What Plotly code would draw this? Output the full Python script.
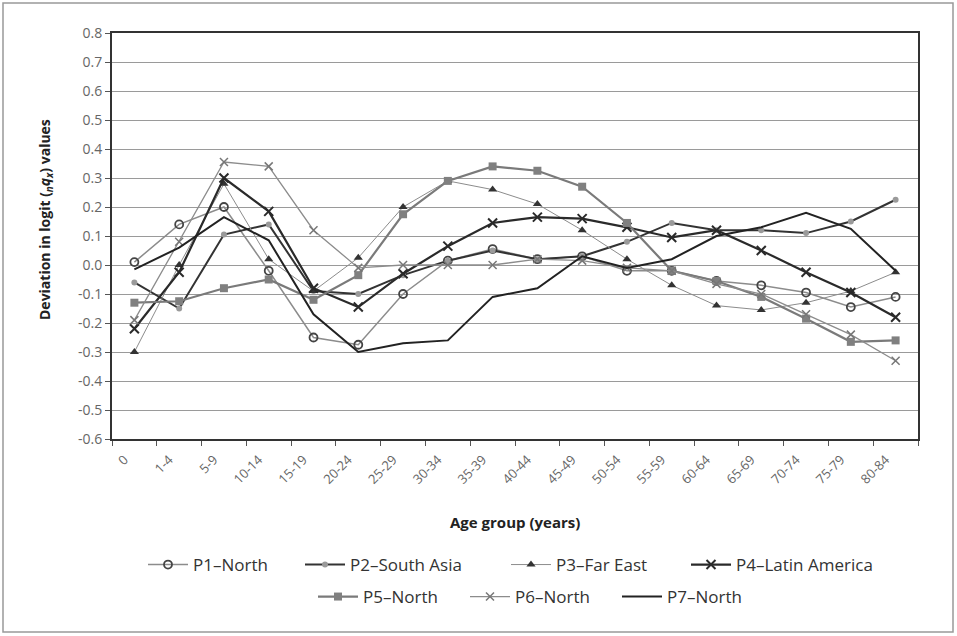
import plotly.graph_objects as go

age_groups = ["0", "1-4", "5-9", "10-14", "15-19", "20-24", "25-29", "30-34", "35-39",
              "40-44", "45-49", "50-54", "55-59", "60-64", "65-69", "70-74", "75-79", "80-84"]

p1_north = [0.01, 0.14, 0.20, -0.02, -0.25, -0.275, -0.10, 0.015, 0.055, 0.02, 0.03,
            -0.02, -0.02, -0.055, -0.07, -0.095, -0.145, -0.11]
p2_south_asia = [-0.06, -0.15, 0.105, 0.14, -0.09, -0.10, -0.035, 0.015, 0.05, 0.02, 0.03,
                 0.08, 0.145, 0.12, 0.12, 0.11, 0.15, 0.225]
p3_far_east = [-0.30, 0.0, 0.28, 0.02, -0.09, 0.025, 0.20, 0.29, 0.26, 0.21, 0.12,
               0.02, -0.07, -0.14, -0.155, -0.13, -0.09, -0.025]
p4_latin_america = [-0.22, -0.025, 0.30, 0.185, -0.08, -0.145, -0.03, 0.065, 0.145, 0.165, 0.16,
                    0.13, 0.095, 0.12, 0.05, -0.025, -0.095, -0.18]
p5_north = [-0.13, -0.125, -0.08, -0.05, -0.12, -0.035, 0.175, 0.29, 0.34, 0.325, 0.27,
            0.145, -0.02, -0.055, -0.11, -0.185, -0.265, -0.26]
p6_north = [-0.19, 0.08, 0.355, 0.34, 0.12, -0.01, 0.0, 0.0, 0.0, 0.02, 0.015,
            -0.01, -0.02, -0.065, -0.10, -0.17, -0.24, -0.33]
p7_north = [-0.015, 0.06, 0.165, 0.085, -0.17, -0.30, -0.27, -0.26, -0.11, -0.08, 0.03,
            -0.01, 0.02, 0.10, 0.13, 0.18, 0.125, -0.02]

y_tick_values = [0.8, 0.7, 0.6, 0.5, 0.4, 0.3, 0.2, 0.1, 0.0, -0.1, -0.2, -0.3, -0.4, -0.5, -0.6]
y_tick_labels = ["0.8", "0.7", "0.6", "0.5", "0.4", "0.3", "0.2", "0.1", "0.0",
                 "-0.1", "-0.2", "-0.3", "-0.4", "-0.5", "-0.6"]

FONT = "Open Sans"

L, R, T, B = 112, 39, 33, 197
W, H = 957, 636
pw, ph = W - L - R, H - T - B


def px_x(x):
    return (x - L) / pw


def px_y(y):
    return (H - B - y) / ph


# (name, values, line style, marker style, legend position in px: (left x, centre y))
series = [
    ("P1–North", p1_north,
     dict(color="#8c8c8c", width=1.5),
     dict(symbol="circle-open", size=8, color="#444444", line=dict(width=1.8, color="#444444")),
     (143, 565)),
    ("P2–South Asia", p2_south_asia,
     dict(color="#333333", width=2),
     dict(symbol="circle", size=6, color="#9a9a9a"),
     (300, 565)),
    ("P3–Far East", p3_far_east,
     dict(color="#8c8c8c", width=1),
     dict(symbol="triangle-up", size=8, color="#333333"),
     (506, 565)),
    ("P4–Latin America", p4_latin_america,
     dict(color="#2a2a2a", width=2.2),
     dict(symbol="x-thin-open", size=9, color="#2a2a2a", line=dict(width=2, color="#2a2a2a")),
     (686, 565)),
    ("P5–North", p5_north,
     dict(color="#7a7a7a", width=2.2),
     dict(symbol="square", size=8, color="#808080"),
     (313, 597)),
    ("P6–North", p6_north,
     dict(color="#8c8c8c", width=1.3),
     dict(symbol="x-thin-open", size=8, color="#777777", line=dict(width=1.5, color="#777777")),
     (465, 597)),
    ("P7–North", p7_north,
     dict(color="#222222", width=2),
     None,
     (617, 597)),
]

fig = go.Figure()
legend_layouts = {}
for i, (name, vals, line, marker, (lx, ly)) in enumerate(series):
    leg = "legend" if i == 0 else f"legend{i + 1}"
    fig.add_trace(go.Scatter(
        x=age_groups, y=vals, name=name, legend=leg, showlegend=True,
        mode="lines+markers" if marker else "lines",
        line=line, marker=marker if marker else None,
    ))
    legend_layouts[leg] = dict(
        orientation="h", x=px_x(lx), xanchor="left", y=px_y(ly), yanchor="middle",
        font=dict(size=17, color="#333333"), bgcolor="rgba(0,0,0,0)", itemwidth=40,
    )

fig.update_layout(
    width=W, height=H,
    showlegend=True,
    margin=dict(l=L, r=R, t=T, b=B),
    paper_bgcolor="white", plot_bgcolor="white",
    font=dict(family=FONT, color="#444444", size=13),
    xaxis=dict(
        type="category", tickson="boundaries", ticks="outside", ticklen=5,
        tickcolor="#555555", tickangle=-45, showgrid=False,
        showline=True, linecolor="#333333", linewidth=2, mirror=True,
        tickfont=dict(size=13, color="#666666"), range=[-0.5, 17.5],
        ticklabelshift=-10, ticklabelstandoff=6,
    ),
    yaxis=dict(
        range=[-0.6, 0.8], tickvals=y_tick_values, ticktext=y_tick_labels,
        ticks="outside", ticklen=5, tickcolor="#555555",
        showgrid=True, gridcolor="#9a9a9a", gridwidth=1,
        showline=True, linecolor="#333333", linewidth=2, mirror=True,
        zeroline=False, tickfont=dict(size=14, color="#666666"),
    ),
    annotations=[
        dict(text="<b>Age group (years)</b>", xref="paper", yref="paper",
             x=px_x(515), y=px_y(522), xanchor="center", yanchor="middle", showarrow=False,
             font=dict(size=15, color="#222222")),
        dict(text="<b>Deviation in logit (<i><sub>n</sub>q<sub>x</sub></i>) values</b>",
             xref="paper", yref="paper", x=px_x(45), y=px_y(220), textangle=-90,
             xanchor="center", yanchor="middle",
             showarrow=False, font=dict(size=14, color="#222222")),
    ],
    shapes=[
        dict(type="rect", xref="paper", yref="paper",
             x0=px_x(3), x1=px_x(953), y0=px_y(632), y1=px_y(3),
             line=dict(color="#999999", width=1.5), fillcolor="rgba(0,0,0,0)", layer="below"),
    ],
    **legend_layouts,
)

fig.write_html("out.html")
